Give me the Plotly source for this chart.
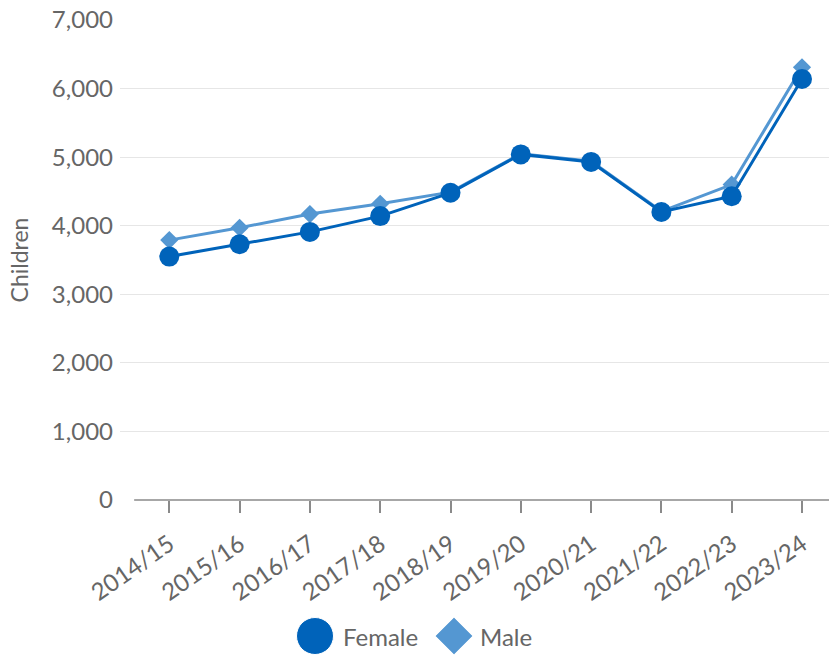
import plotly.graph_objects as go

years = ["2014/15", "2015/16", "2016/17", "2017/18", "2018/19",
         "2019/20", "2020/21", "2021/22", "2022/23", "2023/24"]
female = [3550, 3730, 3910, 4140, 4480, 5040, 4930, 4200, 4430, 6140]
male = [3790, 3970, 4170, 4320, 4490, 5050, 4940, 4210, 4600, 6310]
y_ticks = [0, 1000, 2000, 3000, 4000, 5000, 6000, 7000]
y_tick_labels = ["0", "1,000", "2,000", "3,000", "4,000", "5,000", "6,000", "7,000"]
legend_names = ["Female", "Male"]

FEMALE_C = "#0063BA"
MALE_C = "#5497D2"
TXT = "#666666"
FONT = "Lato"
FS = 24
W, H = 829, 655
PL, PR, PT, PB = 120, 829, 20, 500  # plot area in px

fig = go.Figure()

fig.add_trace(go.Scatter(
    x=years, y=male, name=legend_names[1], mode="lines+markers",
    line=dict(color=MALE_C, width=3),
    marker=dict(symbol="diamond", size=14, color=MALE_C),
    showlegend=False,
))
fig.add_trace(go.Scatter(
    x=years, y=female, name=legend_names[0], mode="lines+markers",
    line=dict(color=FEMALE_C, width=3),
    marker=dict(symbol="circle", size=20, color=FEMALE_C),
    showlegend=False,
))

# custom legend (large symbols) on a separate full-page pixel axis
fig.add_trace(go.Scatter(
    x=[315, 454], y=[636, 636], mode="markers", xaxis="x2", yaxis="y2",
    marker=dict(symbol=["circle", "diamond"], size=[37, 29], opacity=1,
                color=[FEMALE_C, MALE_C]),
    showlegend=False, hoverinfo="skip",
))
for name, xpos in zip(legend_names, [341, 478]):
    fig.add_annotation(x=xpos / W, y=1 - 636 / H, xref="paper", yref="paper",
                       text=name, showarrow=False, xanchor="left",
                       yanchor="middle", font=dict(size=FS, color=TXT, family=FONT))

n = len(years)
x0_px, step = 169.3, 70.3
xr = [-(x0_px - PL) / step, (n - 1) + (PR - (x0_px + (n - 1) * step)) / step]

fig.update_layout(
    width=W, height=H,
    margin=dict(l=0, r=0, t=0, b=0),
    paper_bgcolor="white", plot_bgcolor="rgba(0,0,0,0)",
    font=dict(family=FONT, color=TXT, size=FS),
    xaxis=dict(
        domain=[PL / W, PR / W], range=xr, type="category",
        showgrid=False, zeroline=False, showline=False,
        ticks="outside", ticklen=12, tickwidth=1.5, tickcolor="#8a8a8a",
        tickangle=-35, tickfont=dict(size=FS, color=TXT, family=FONT),
        ticklabelstandoff=8,
        automargin=False, anchor="y",
    ),
    yaxis=dict(
        domain=[1 - PB / H, 1 - PT / H], range=[0, 7000],
        tickvals=y_ticks, ticktext=y_tick_labels,
        showgrid=True, gridcolor="#e6e6e6", gridwidth=1,
        zeroline=False, showline=False, ticks="",
        tickfont=dict(size=FS, color=TXT, family=FONT),
        ticklabelstandoff=6,
        title=dict(text="Children", font=dict(size=FS - 1, color=TXT, family=FONT), standoff=16),
        automargin=False, anchor="x",
    ),
    xaxis2=dict(domain=[0, 1], range=[0, W], visible=False, fixedrange=True, anchor="y2"),
    yaxis2=dict(domain=[0, 1], range=[H, 0], visible=False, fixedrange=True, anchor="x2"),
    shapes=[dict(type="line", xref="x", yref="paper", x0=-0.5, x1=xr[1],
                 y0=1 - PB / H, y1=1 - PB / H,
                 line=dict(color="#8a8a8a", width=1.5), layer="above")],
)

fig.write_html("out.html", config={"displayModeBar": False},
               post_script="document.body.style.margin='0px';")
